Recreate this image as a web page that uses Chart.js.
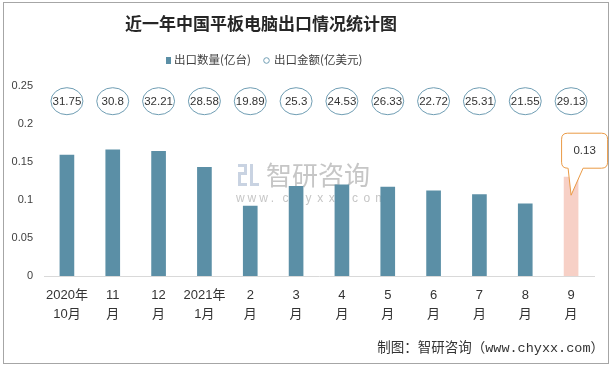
<!DOCTYPE html>
<html>
<head>
<meta charset="utf-8">
<script src="https://cdn.jsdelivr.net/npm/chart.js@4/dist/chart.umd.min.js"></script>
<style>
  html, body { margin: 0; padding: 0; background: #fff; }
  #wrap { position: relative; width: 615px; height: 367px; }
</style>
</head>
<body>
<div id="wrap"><canvas id="c" width="615" height="367"></canvas></div>
<script>
// data
var months = [['2020年', '10月'], ['11', '月'], ['12', '月'], ['2021年', '1月'], ['2', '月'], ['3', '月'],
              ['4', '月'], ['5', '月'], ['6', '月'], ['7', '月'], ['8', '月'], ['9', '月']];
var quantity = [0.159, 0.166, 0.164, 0.143, 0.092, 0.118, 0.120, 0.117, 0.112, 0.107, 0.095, 0.13];
var amount = [31.75, 30.8, 32.21, 28.58, 19.89, 25.3, 24.53, 26.33, 22.72, 25.31, 21.55, 29.13];
var yTicks = [0, 0.05, 0.1, 0.15, 0.2, 0.25];

var BLUE = '#5b8fa6', PINK = '#f7d0c6', RING = '#6f9db3', ORANGE = '#ea9a45';
var INK = '#333', SOFT = '#404040';
var SANS = "'Liberation Sans', 'Noto Sans CJK SC', sans-serif";
var CJK = "'Noto Sans CJK SC', sans-serif";

/* frame, title, legend, amount rings, watermark, callout, footer */
var decor = {
  id: 'decor',
  beforeDatasetsDraw: function (c) {
    var g = c.ctx;
    g.save();
    // faint watermark behind the bars
    g.fillStyle = '#c9d3e2';
    g.fillRect(238, 164, 9, 3); g.fillRect(244, 164, 3, 11); g.fillRect(238, 172, 9, 3);
    g.fillRect(238, 175, 3, 11); g.fillRect(250, 164, 3, 22); g.fillRect(250, 183, 9, 3);
    g.fillRect(238, 183, 9, 3);
    g.fillStyle = '#c6c6c6';
    g.font = '26px ' + CJK;
    g.textAlign = 'left';
    g.textBaseline = 'middle';
    g.fillText('智研咨询', 266, 175);
    g.font = '12px ' + SANS;
    var s = 'www.chyxx.com';
    for (var i = 0; i < s.length; i++) g.fillText(s[i], 236 + i * 11.6, 199);
    g.restore();
  },
  afterDatasetsDraw: function (c) {
    var g = c.ctx, xs = c.scales.x, ys = c.scales.y;
    g.save();
    // amount rings at a fixed level above the bars
    var ry = ys.getPixelForValue(0.23);
    g.font = '11.5px ' + SANS;
    g.textAlign = 'center';
    g.textBaseline = 'middle';
    amount.forEach(function (v, i) {
      var x = xs.getPixelForValue(i);
      g.beginPath();
      g.ellipse(x, ry, 16, 13.5, 0, 0, Math.PI * 2);
      g.fillStyle = '#fff';
      g.fill();
      g.strokeStyle = RING;
      g.lineWidth = 1;
      g.stroke();
      g.fillStyle = INK;
      g.fillText(String(v), x, ry + 0.5);
    });

    // callout on the latest bar
    var last = quantity.length - 1;
    var el = c.getDatasetMeta(0).data[last];
    var bx = el.x, by = el.y;
    var L = bx - 9.5, R = bx + 36.5, T = by - 44, B = by - 9, r = 6;
    g.beginPath();
    g.moveTo(L + r, T);
    g.lineTo(R - r, T); g.quadraticCurveTo(R, T, R, T + r);
    g.lineTo(R, B - r); g.quadraticCurveTo(R, B, R - r, B);
    g.lineTo(bx + 12, B);
    g.lineTo(bx, by + 18);
    g.lineTo(bx - 3, B);
    g.lineTo(L + r, B); g.quadraticCurveTo(L, B, L, B - r);
    g.lineTo(L, T + r); g.quadraticCurveTo(L, T, L + r, T);
    g.closePath();
    g.fillStyle = '#fff';
    g.fill();
    g.strokeStyle = ORANGE;
    g.lineWidth = 1;
    g.stroke();
    g.fillStyle = INK;
    g.font = '11.5px ' + SANS;
    g.fillText(String(quantity[last]), (L + R) / 2, (T + B) / 2 + 0.5);
    g.restore();
  },
  afterDraw: function (c) {
    var g = c.ctx;
    g.save();
    g.strokeStyle = '#a6a6a6';
    g.lineWidth = 1;
    g.strokeRect(3.5, 2.5, 605, 361);

    g.fillStyle = '#262626';
    g.textAlign = 'center';
    g.textBaseline = 'middle';
    g.font = 'bold 17px ' + CJK;
    g.fillText('近一年中国平板电脑出口情况统计图', 261, 24);

    // legend
    g.font = '11.5px ' + CJK;
    g.textAlign = 'left';
    g.fillStyle = BLUE;
    g.fillRect(166, 57, 5, 7);
    g.fillStyle = SOFT;
    g.fillText('出口数量(亿台)', 174, 60);
    g.beginPath();
    g.arc(266.5, 60.5, 2.8, 0, Math.PI * 2);
    g.strokeStyle = RING;
    g.stroke();
    g.fillText('出口金额(亿美元)', 274, 60);

    // source line
    g.fillStyle = INK;
    g.textAlign = 'right';
    g.font = "13.5px 'Liberation Mono', 'Noto Sans CJK SC', monospace";
    g.fillText('制图：智研咨询（www.chyxx.com）', 604, 348);
    g.restore();
  }
};

new Chart(document.getElementById('c'), {
  type: 'bar',
  data: {
    labels: months,
    datasets: [{
      label: '出口数量(亿台)',
      data: quantity,
      backgroundColor: quantity.map(function (v, i) { return i === quantity.length - 1 ? PINK : BLUE; }),
      barThickness: 14
    }]
  },
  options: {
    responsive: false,
    animation: false,
    devicePixelRatio: 1,
    layout: { padding: { left: 0, right: 21, top: 86, bottom: 0 } },
    plugins: { legend: { display: false }, title: { display: false }, tooltip: { enabled: false } },
    scales: {
      x: {
        offset: true,
        grid: { display: false, drawTicks: false },
        border: { color: '#d9d9d9' },
        ticks: { color: INK, font: { family: SANS, size: 13, lineHeight: 1.45 }, padding: 10, maxRotation: 0, autoSkip: false },
        afterFit: function (s) { s.height = 91; }
      },
      y: {
        min: 0, max: 0.25,
        grid: { display: false, drawTicks: false },
        border: { display: false },
        afterBuildTicks: function (s) { s.ticks = yTicks.map(function (v) { return { value: v }; }); },
        ticks: {
          color: SOFT, font: { family: SANS, size: 11 }, padding: 11,
          callback: function (v) { return String(Number(v.toFixed(2))); }
        },
        afterFit: function (s) { s.width = 44; }
      }
    }
  },
  plugins: [decor]
});
</script>
</body>
</html>
